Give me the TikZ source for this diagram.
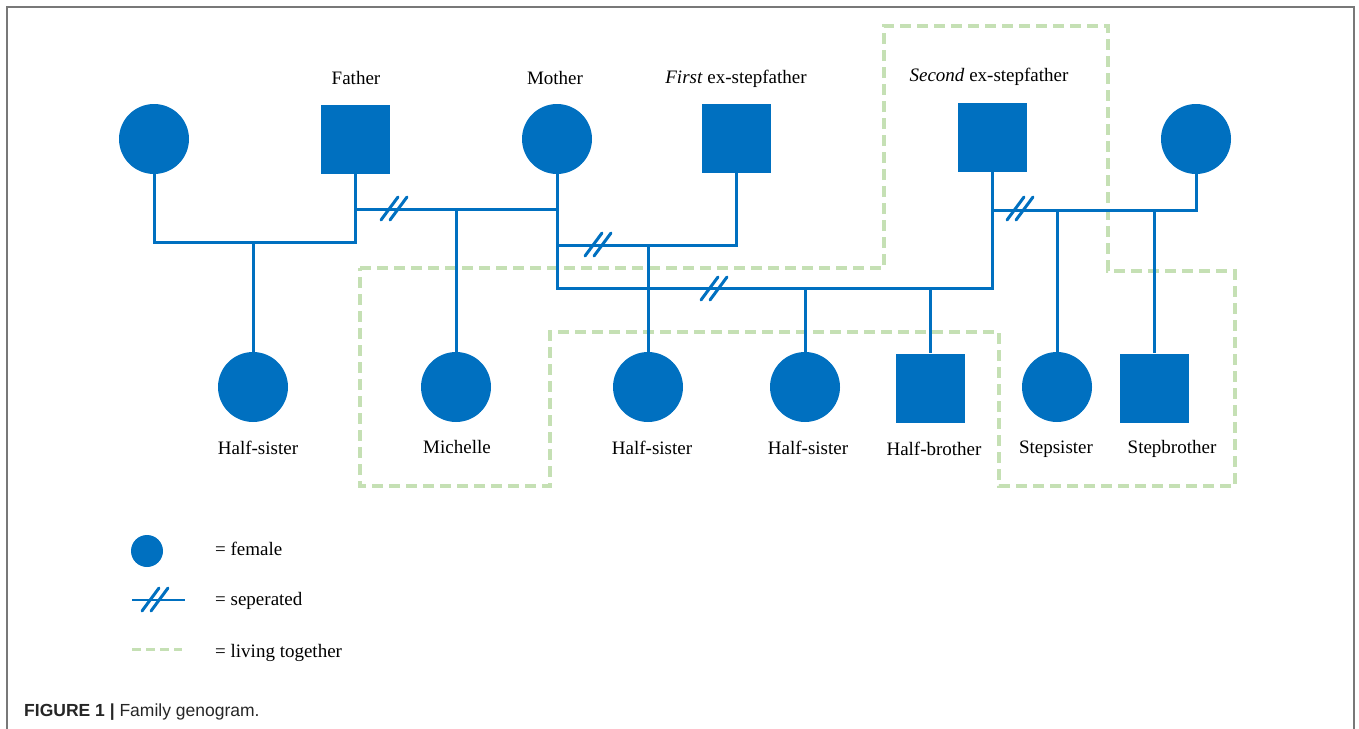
\documentclass[tikz,border=0pt]{standalone}
\usepackage{fontspec}
\setmainfont{Liberation Serif}
\setsansfont{Liberation Sans}
\definecolor{kinblue}{RGB}{0,112,192}
\definecolor{livegreen}{RGB}{197,224,180}
\definecolor{framegray}{RGB}{120,120,120}
\newcommand{\splitmark}[1]{\draw[kin, line cap=round, shift={(#1)}] (-13,11) -- (4,-12) (-4,11) -- (13,-12);}

\begin{document}
\begin{tikzpicture}[x=1pt, y=-1pt,
    kin/.style={draw=kinblue, line width=3pt},
    female/.style={circle, fill=kinblue, inner sep=0pt, minimum size=70pt},
    male/.style={rectangle, fill=kinblue, inner sep=0pt, minimum size=69pt},
    kinlabel/.style={anchor=base, inner sep=0pt, font=\fontsize{19}{22}\selectfont},
    together/.style={draw=livegreen, line width=3.5pt, dash pattern=on 11pt off 6pt}]
        \useasboundingbox (0,0) rectangle (1359,728);
        \draw [framegray, line width=2pt] (7,740) -- (7,7) -- (1354,7) -- (1354,740);

        \draw [together] (360,268) -- (884,268) -- (884,26) -- (1108,26) -- (1108,271)
        -- (1235,271) -- (1235,486) -- (999,486) -- (999,332) -- (550,332)
        -- (550,486) -- (360,486) -- cycle;

        \node [female] (woman1) at (154,139) {};
        \node [male] (father) at (355,139) {};
        \node [female] (mother) at (557,139) {};
        \node [male] (firstex) at (736,138) {};
        \node [male] (secondex) at (992,137) {};
        \node [female] (woman2) at (1196,139) {};

        \node [kinlabel] (fatherlbl) at (356,84) {Father};
        \node [kinlabel] (motherlbl) at (555,84) {Mother};
        \node [kinlabel] (firstexlbl) at (736,83) {\textit{First} ex-stepfather};
        \node [kinlabel] (secondexlbl) at (989,81) {\textit{Second} ex-stepfather};

        \node [female] (halfsis1) at (253,387) {};
        \node [female] (michelle) at (456,387) {};
        \node [female] (halfsis2) at (648,387) {};
        \node [female] (halfsis3) at (805,387) {};
        \node [male] (halfbro) at (930,388) {};
        \node [female] (stepsis) at (1057,387) {};
        \node [male] (stepbro) at (1154,388) {};

        \node [kinlabel] (halfsis1lbl) at (258,454) {Half-sister};
        \node [kinlabel] (michellelbl) at (457,453) {Michelle};
        \node [kinlabel] (halfsis2lbl) at (652,454) {Half-sister};
        \node [kinlabel] (halfsis3lbl) at (808,454) {Half-sister};
        \node [kinlabel] (halfbrolbl) at (934,455) {Half-brother};
        \node [kinlabel] (stepsislbl) at (1056,453) {Stepsister};
        \node [kinlabel] (stepbrolbl) at (1172,453) {Stepbrother};

        \coordinate (union1) at (253,242);
        \coordinate (union2) at (456,209);
        \coordinate (union3) at (648,245);
        \coordinate (union4) at (805,288);
        \coordinate (union5) at (1057,210);

        \draw [kin] (woman1) |- (union1) -| (father);
        \draw [kin] (union1) -- (halfsis1);
        \draw [kin] (father |- union2) -- (union2 -| mother);
        \draw [kin] (union2) -- (michelle);
        \draw [kin] (union3 -| mother) -| (firstex);
        \draw [kin] (union3) -- (halfsis2);
        \draw [kin] (mother) |- (union4) -| (secondex);
        \draw [kin] (union4) -- (halfsis3);
        \draw [kin] (halfbro |- union4) -- (halfbro);
        \draw [kin] (secondex |- union5) -| (woman2);
        \draw [kin] (union5) -- (stepsis);
        \draw [kin] (stepbro |- union5) -- (stepbro);

        \splitmark{394,209}
        \splitmark{598,245}
        \splitmark{714,289}
        \splitmark{1020,209}

        \node [female, minimum size=32pt] (keyfemale) at (147,551) {};
        \node [kinlabel, anchor=base west] (keyfemalelbl) at (215,555) {= female};
        \coordinate (keysepa) at (132,600);
        \coordinate (keysepb) at (185,600);
        \draw [kin, line width=2.5pt] (keysepa) -- (keysepb);
        \splitmark{155,600}
        \node [kinlabel, anchor=base west] (keyseplbl) at (215,605) {= seperated};
        \coordinate (keylivea) at (132,649);
        \coordinate (keyliveb) at (182,649);
        \draw [together, line width=3pt, dash pattern=on 9pt off 5pt] (keylivea) -- (keyliveb);
        \node [kinlabel, anchor=base west] (keylivelbl) at (215,657) {= living together};

        \node [anchor=base west, inner sep=0pt, text=black!85,
        font=\sffamily\fontsize{17.5}{20}\selectfont] (caption) at (24,716)
        {\textbf{FIGURE 1 |} Family genogram.};
      \end{tikzpicture}
\end{document}
